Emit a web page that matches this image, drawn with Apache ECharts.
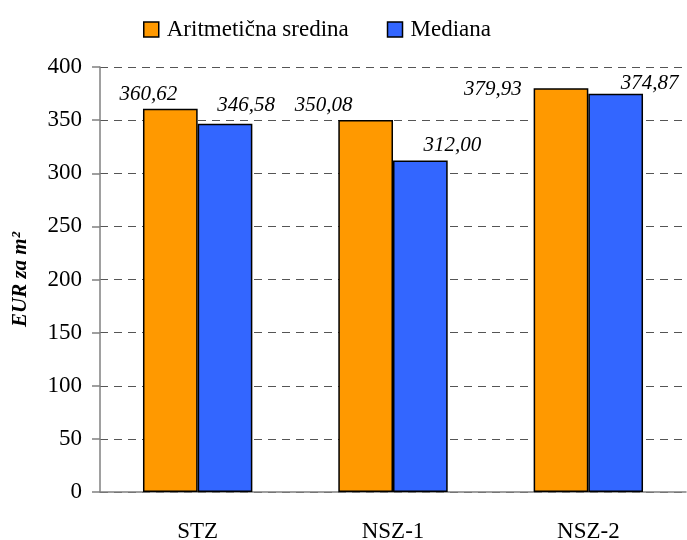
<!DOCTYPE html>
<html>
<head>
<meta charset="utf-8">
<script src="https://cdn.jsdelivr.net/npm/echarts@6/dist/echarts.min.js"></script>
<style>
  html, body { margin: 0; padding: 0; background: #fff; }
  #chart { width: 687px; height: 540px; }
</style>
</head>
<body>
<div id="chart"></div>
<script>
// Average vs. median price per square metre by zone
const categories = ['STZ', 'NSZ-1', 'NSZ-2'];
const seriesNames = ['Aritmetična sredina', 'Mediana'];
const meanValues = [360.62, 350.08, 379.93];
const medianValues = [346.58, 312.00, 374.87];
const yTicks = [0, 50, 100, 150, 200, 250, 300, 350, 400];

// label nudges so the value sits beside its bar
const meanLabelShift = [[-22, 0], [-42, 0], [-68, 16]];
const medianLabelShift = [[21, -4], [32, -1], [34, 4]];

const FONT = '"Liberation Serif", "Times New Roman", serif';
const fmt = v => v.toFixed(2).replace('.', ',');

function buildData(values, shifts) {
  return values.map((v, i) => ({
    value: v,
    label: { offset: shifts[i] }
  }));
}

const barLabel = {
  show: true,
  position: 'top',
  distance: 4,
  fontFamily: FONT,
  fontStyle: 'italic',
  fontSize: 21,
  color: '#000',
  formatter: p => fmt(p.value)
};

const chart = echarts.init(document.getElementById('chart'), null, { renderer: 'canvas' });
chart.setOption({
  animation: false,
  backgroundColor: '#fff',
  legend: {
    top: 13,
    left: 138,
    itemWidth: 15,
    itemHeight: 15,
    itemGap: 38,
    icon: 'rect',
    textStyle: { fontFamily: FONT, fontSize: 23, color: '#000', padding: [0, 0, 0, 3] },
    data: seriesNames.map(n => ({ name: n, itemStyle: { borderColor: '#000', borderWidth: 1.5 } }))
  },
  grid: { left: 100, right: 1, top: 67, bottom: 48, containLabel: false, outerBoundsMode: 'none' },
  xAxis: {
    type: 'category',
    data: categories,
    axisLine: { lineStyle: { color: '#808080', width: 1.5 } },
    axisTick: { show: false },
    axisLabel: { fontFamily: FONT, fontSize: 23, color: '#000', margin: 28 }
  },
  yAxis: {
    type: 'value',
    min: yTicks[0],
    max: yTicks[yTicks.length - 1],
    interval: 50,
    name: 'EUR za m²',
    nameLocation: 'middle',
    nameRotate: 90,
    nameGap: 69,
    nameTextStyle: { fontFamily: FONT, fontSize: 21, fontWeight: 'bold', fontStyle: 'italic', color: '#000' },
    axisLine: { show: true, lineStyle: { color: '#808080', width: 1.5 } },
    axisTick: { show: true, length: 8, lineStyle: { color: '#808080', width: 1.5 } },
    axisLabel: { fontFamily: FONT, fontSize: 23, color: '#000', margin: 18 },
    splitLine: { lineStyle: { color: '#555', type: [8, 6], width: 1 } }
  },
  series: [
    {
      name: seriesNames[0],
      type: 'bar',
      data: buildData(meanValues, meanLabelShift),
      barGap: '0%',
      barCategoryGap: '44%',
      itemStyle: { color: '#FF9900', borderColor: '#000', borderWidth: 1.5 },
      label: barLabel
    },
    {
      name: seriesNames[1],
      type: 'bar',
      data: buildData(medianValues, medianLabelShift),
      barGap: '0%',
      barCategoryGap: '44%',
      itemStyle: { color: '#3366FF', borderColor: '#000', borderWidth: 1.5 },
      label: barLabel
    }
  ]
});
</script>
</body>
</html>
